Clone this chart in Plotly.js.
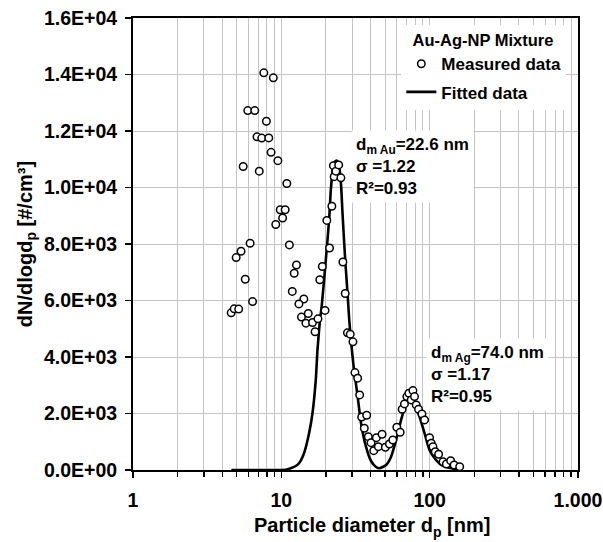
<!DOCTYPE html>
<html>
<head>
<meta charset="utf-8">
<script src="https://cdn.plot.ly/plotly-3.0.1.min.js"></script>
<style>html,body{margin:0;padding:0;background:#fff;}#chart{width:603px;height:542px;}</style>
</head>
<body>
<div id="chart"></div>
<script>
// Measured data (particle diameter in nm, dN/dlogdp in #/cm3)
const measuredX = [4.59,4.81,5.16,4.96,5.35,6.16,5.71,6.40,5.53,5.94,6.62,6.85,7.38,8.23,7.10,7.62,8.83,7.93,8.53,9.48,10.89,9.83,10.61,10.20,9.17,11.33,12.65,12.21,11.85,14.18,13.14,13.66,15.19,14.65,16.24,16.89,17.66,19.70,18.17,18.89,20.26,21.13,21.91,22.71,22.43,23.32,24.36,25.21,26.00,26.95,27.90,29.14,30.39,31.35,32.70,33.74,34.80,37.63,36.25,38.58,40.24,41.97,43.71,45.09,47.76,50.28,53.52,56.44,60.07,63.23,65.24,67.62,70.20,72.43,77.08,75.06,79.04,81.16,84.12,88.70,92.38,99.8,102.5,105.3,109.1,114.9,123.1,129.6,138.5,146.1,159.4];
const measuredY = [5564,5706,5695,7520,7744,8027,6751,5961,10745,12723,12723,11794,11748,11755,10579,14059,13882,12344,11245,10951,10143,9214,9214,8920,8690,7967,7258,6964,6322,6053,5880,5412,5539,5199,5220,4894,5351,5649,6734,7205,8835,7857,9338,10384,10774,10579,10799,10341,7364,6248,4855,4809,4536,3448,3250,2658,1878,1939,1478,1180,968,684,1145,826,1265,804,921,1063,1513,1336,2151,2339,2598,2718,2810,2481,2598,2304,2151,1985,1772,1145,946,826,649,556,294,213,330,177,117];

// Fitted curve
const fittedX = [4.608,7.241,10.69,11.56,12.50,13.16,14.22,15.38,16.22,17.07,17.53,18.17,18.75,19.95,21.00,21.57,22.36,22.96,23.69,24.43,25.21,25.88,26.95,27.99,28.69,29.46,30.73,32.70,34.43,37.21,40.24,43.51,45.80,50.84,54.95,59.40,64.21,69.43,74.25,79.04,85.43,92.38,99.8,108.0,119.8,140.0,163.7];
const fittedY = [0,0,7,60,142,237,592,1301,2009,3190,4253,5245,5848,7442,8860,9923,10738,10916,10952,10810,10171,9037,7442,6202,5316,4607,3661,2598,1666,826,319,106,60,177,471,1063,1772,2364,2576,2421,1889,1301,709,415,177,60,18];

const xTickVals = [1,10,100,1000];
const xTickText = ["1","10","100","1.000"];
const yTickVals = [0,2000,4000,6000,8000,10000,12000,14000,16000];
const yTickText = ["0.0E+00","2.0E+03","4.0E+03","6.0E+03","8.0E+03","1.0E+04","1.2E+04","1.4E+04","1.6E+04"];

const FONT = "Liberation Sans, Arial, sans-serif";
const gridC = "#c4c4c4";

const traces = [
  {x: fittedX, y: fittedY, mode: "lines", name: "Fitted data", legendrank: 2, legendgroup: "b",
   line: {color: "#000", width: 2.6, shape: "spline", smoothing: 0.6}},
  {x: measuredX, y: measuredY, mode: "markers", name: "Measured data", legendrank: 1, legendgroup: "a",
   marker: {symbol: "circle", size: 7.5, color: "#fff", line: {color: "#000", width: 1.5}}}
];

const layout = {
  width: 603, height: 542,
  margin: {l: 133, r: 25, t: 18, b: 72},
  paper_bgcolor: "#fff", plot_bgcolor: "#fff",
  showlegend: true,
  font: {family: FONT, color: "#000"},
  xaxis: {
    type: "log", range: [0, 3],
    tickmode: "array", tickvals: xTickVals, ticktext: xTickText,
    tickfont: {family: FONT, size: 19.5, weight: "bold"},
    ticks: "outside", ticklen: 6, tickcolor: "#000", tickwidth: 1.5,
    ticklabelstandoff: 6,
    showgrid: true, gridcolor: gridC, gridwidth: 1,
    minor: {dtick: "D1", showgrid: true, gridcolor: gridC, gridwidth: 1, ticks: "outside", ticklen: 5, tickcolor: "#000"},
    showline: true, linecolor: "#000", linewidth: 2, mirror: true,
    zeroline: false,
    title: {text: "&nbsp;&nbsp;&nbsp;&nbsp;&nbsp;&nbsp;Particle diameter d<sub>p</sub> [nm]", font: {family: FONT, size: 20, weight: "bold"}, standoff: 8}
  },
  yaxis: {
    range: [0, 16000],
    tickmode: "array", tickvals: yTickVals, ticktext: yTickText,
    tickfont: {family: FONT, size: 19.5, weight: "bold"},
    ticks: "outside", ticklen: 6, tickcolor: "#000", tickwidth: 1.5,
    ticklabelstandoff: 4,
    showgrid: true, gridcolor: gridC, gridwidth: 1,
    showline: true, linecolor: "#000", linewidth: 2, mirror: true,
    zeroline: false,
    title: {text: "dN/dlogd<sub>p</sub> [#/cm³]", font: {family: FONT, size: 20, weight: "bold"}, standoff: 6}
  },
  legend: {
    x: 0.603, y: 0.985, xanchor: "left", yanchor: "top",
    bgcolor: "#fff", borderwidth: 0,
    font: {family: FONT, size: 17, weight: "bold"},
    title: {text: "&nbsp;&nbsp;Au-Ag-NP Mixture", font: {family: FONT, size: 16.5, weight: "bold"}},
    tracegroupgap: 3
  },
  annotations: [
    {xref: "paper", yref: "paper", x: 0.49, y: 0.752, xanchor: "left", yanchor: "top", align: "left",
     showarrow: false, bgcolor: "#fff", borderpad: 4,
     font: {family: FONT, size: 17, weight: "bold"},
     text: "d<sub>m Au</sub>=22.6 nm<br>σ =1.22<br>R²=0.93"},
    {xref: "paper", yref: "paper", x: 0.658, y: 0.292, xanchor: "left", yanchor: "top", align: "left",
     showarrow: false, bgcolor: "#fff", borderpad: 4,
     font: {family: FONT, size: 17, weight: "bold"},
     text: "d<sub>m Ag</sub>=74.0 nm<br>σ =1.17<br>R²=0.95"}
  ]
};

Plotly.newPlot("chart", traces, layout, {displayModeBar: false, staticPlot: true});
</script>
</body>
</html>
